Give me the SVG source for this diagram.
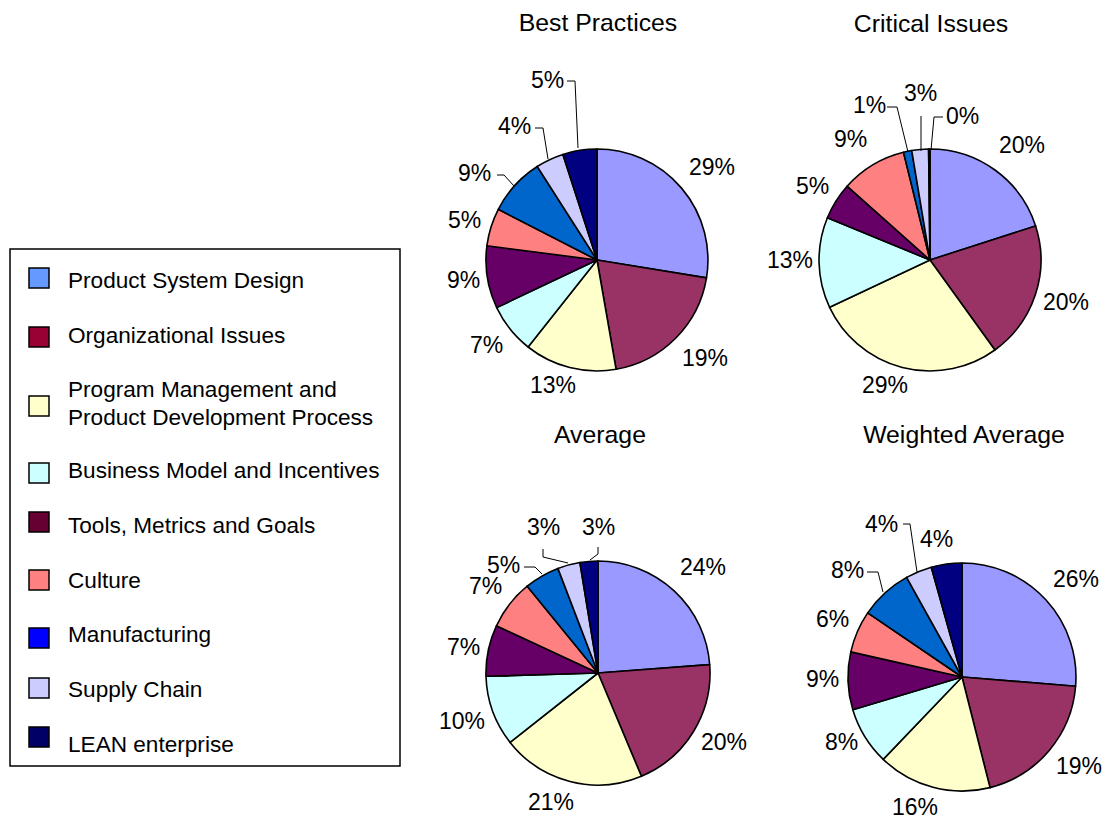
<svg xmlns="http://www.w3.org/2000/svg" width="1107" height="819" viewBox="0 0 1107 819">
<style>
text{font-family:"Liberation Sans",Arial,sans-serif;font-size:23px;fill:#000}
.t{font-size:24.8px;text-anchor:middle}
.lg{font-size:22.6px}
.s{stroke:#000;stroke-width:1.6;stroke-linejoin:round}
.l{fill:none;stroke:#000;stroke-width:1}
.sw{stroke:#000;stroke-width:1.5}
.c1{fill:#9999FF}.c2{fill:#993366}.c3{fill:#FFFFCC}.c4{fill:#CCFFFF}.c5{fill:#660066}.c6{fill:#FF8080}.c7{fill:#0066CC}.c8{fill:#CCCCFF}.c9{fill:#000080}
</style>
<rect width="1107" height="819" fill="#fff"/>

<g id="legend">
<rect x="10" y="249" width="390" height="517" fill="#fff" stroke="#000" stroke-width="1.5"/>
<rect class="sw" x="29" y="268" width="20" height="20" fill="#6699FF"/>
<text class="lg" x="68" y="288">Product System Design</text>
<rect class="sw" x="29" y="327" width="20" height="20" fill="#990033"/>
<text class="lg" x="68" y="343">Organizational Issues</text>
<rect class="sw" x="29" y="396" width="20" height="20" fill="#FFFFCC"/>
<text class="lg" x="68" y="397">Program Management and</text>
<text class="lg" x="68" y="425">Product Development Process</text>
<rect class="sw" x="29" y="463" width="20" height="20" fill="#CCFFFF"/>
<text class="lg" x="68" y="478">Business Model and Incentives</text>
<rect class="sw" x="29" y="512" width="20" height="20" fill="#660033"/>
<text class="lg" x="68" y="533">Tools, Metrics and Goals</text>
<rect class="sw" x="29" y="570" width="20" height="20" fill="#FF8080"/>
<text class="lg" x="68" y="588">Culture</text>
<rect class="sw" x="29" y="628" width="20" height="20" fill="#0000FF"/>
<text class="lg" x="68" y="642">Manufacturing</text>
<rect class="sw" x="29" y="678" width="20" height="20" fill="#CCCCFF"/>
<text class="lg" x="68" y="697">Supply Chain</text>
<rect class="sw" x="29" y="727" width="20" height="20" fill="#000066"/>
<text class="lg" x="68" y="752">LEAN enterprise</text>
</g>

<g id="pie-best-practices">
<text class="t" x="598" y="31">Best Practices</text>
<path class="s c1" d="M597,260 L597,149 A111,111 0 0 1 706.5,277.9 Z"/>
<path class="s c2" d="M597,260 L706.5,277.9 A111,111 0 0 1 616.1,369.3 Z"/>
<path class="s c3" d="M597,260 L616.1,369.3 A111,111 0 0 1 528.1,347 Z"/>
<path class="s c4" d="M597,260 L528.1,347 A111,111 0 0 1 496.7,307.6 Z"/>
<path class="s c5" d="M597,260 L496.7,307.6 A111,111 0 0 1 486.9,245.7 Z"/>
<path class="s c6" d="M597,260 L486.9,245.7 A111,111 0 0 1 498.3,209.3 Z"/>
<path class="s c7" d="M597,260 L498.3,209.3 A111,111 0 0 1 537.2,166.5 Z"/>
<path class="s c8" d="M597,260 L537.2,166.5 A111,111 0 0 1 562.9,154.4 Z"/>
<path class="s c9" d="M597,260 L562.9,154.4 A111,111 0 0 1 597,149 Z"/>
<text x="689" y="175">29%</text>
<text x="682" y="366">19%</text>
<text x="530" y="393">13%</text>
<text x="470" y="353">7%</text>
<text x="447" y="288">9%</text>
<text x="448" y="228">5%</text>
<text x="458" y="181">9%</text>
<text x="498" y="134">4%</text>
<text x="531" y="88">5%</text>
</g>

<g id="pie-critical-issues">
<text class="t" x="931" y="32">Critical Issues</text>
<path class="s c1" d="M930,260 L930,149 A111,111 0 0 1 1035.6,225.9 Z"/>
<path class="s c2" d="M930,260 L1035.6,225.9 A111,111 0 0 1 994.9,350 Z"/>
<path class="s c3" d="M930,260 L994.9,350 A111,111 0 0 1 829.6,307.3 Z"/>
<path class="s c4" d="M930,260 L829.6,307.3 A111,111 0 0 1 827.4,217.7 Z"/>
<path class="s c5" d="M930,260 L827.4,217.7 A111,111 0 0 1 847.1,186.2 Z"/>
<path class="s c6" d="M930,260 L847.1,186.2 A111,111 0 0 1 903.5,152.2 Z"/>
<path class="s c7" d="M930,260 L903.5,152.2 A111,111 0 0 1 911.7,150.5 Z"/>
<path class="s c8" d="M930,260 L911.7,150.5 A111,111 0 0 1 928.6,149 Z"/>
<path class="s c9" d="M930,260 L928.6,149 A111,111 0 0 1 930,149 Z"/>
<text x="999" y="153">20%</text>
<text x="1043" y="310">20%</text>
<text x="862" y="393">29%</text>
<text x="767" y="268">13%</text>
<text x="796" y="194">5%</text>
<text x="834" y="147">9%</text>
<text x="853" y="113">1%</text>
<text x="904" y="101">3%</text>
<text x="946" y="124">0%</text>
</g>

<g id="pie-average">
<text class="t" x="600" y="443">Average</text>
<path class="s c1" d="M598,673 L598,561 A112,112 0 0 1 709.7,664.6 Z"/>
<path class="s c2" d="M598,673 L709.7,664.6 A112,112 0 0 1 641.4,776.3 Z"/>
<path class="s c3" d="M598,673 L641.4,776.3 A112,112 0 0 1 510.1,742.4 Z"/>
<path class="s c4" d="M598,673 L510.1,742.4 A112,112 0 0 1 486,676.3 Z"/>
<path class="s c5" d="M598,673 L486,676.3 A112,112 0 0 1 496.4,625.8 Z"/>
<path class="s c6" d="M598,673 L496.4,625.8 A112,112 0 0 1 527.2,586.2 Z"/>
<path class="s c7" d="M598,673 L527.2,586.2 A112,112 0 0 1 557.9,568.4 Z"/>
<path class="s c8" d="M598,673 L557.9,568.4 A112,112 0 0 1 579.9,562.5 Z"/>
<path class="s c9" d="M598,673 L579.9,562.5 A112,112 0 0 1 598,561 Z"/>
<text x="680" y="575">24%</text>
<text x="701" y="750">20%</text>
<text x="528" y="810">21%</text>
<text x="439" y="729">10%</text>
<text x="447" y="655">7%</text>
<text x="469" y="594">7%</text>
<text x="487" y="573">5%</text>
<text x="527" y="535">3%</text>
<text x="582" y="535">3%</text>
</g>

<g id="pie-weighted-average">
<text class="t" x="964" y="443">Weighted Average</text>
<path class="s c1" d="M962,677 L962,563 A114,114 0 0 1 1075.6,686.3 Z"/>
<path class="s c2" d="M962,677 L1075.6,686.3 A114,114 0 0 1 990,787.6 Z"/>
<path class="s c3" d="M962,677 L990,787.6 A114,114 0 0 1 883.2,759.4 Z"/>
<path class="s c4" d="M962,677 L883.2,759.4 A114,114 0 0 1 852.8,709.8 Z"/>
<path class="s c5" d="M962,677 L852.8,709.8 A114,114 0 0 1 850.8,651.9 Z"/>
<path class="s c6" d="M962,677 L850.8,651.9 A114,114 0 0 1 867.7,612.9 Z"/>
<path class="s c7" d="M962,677 L867.7,612.9 A114,114 0 0 1 906.6,577.4 Z"/>
<path class="s c8" d="M962,677 L906.6,577.4 A114,114 0 0 1 931.3,567.2 Z"/>
<path class="s c9" d="M962,677 L931.3,567.2 A114,114 0 0 1 962,563 Z"/>
<text x="1053" y="587">26%</text>
<text x="1056" y="774">19%</text>
<text x="892" y="815">16%</text>
<text x="825" y="750">8%</text>
<text x="806" y="687">9%</text>
<text x="816" y="627">6%</text>
<text x="831" y="578">8%</text>
<text x="865" y="532">4%</text>
<text x="920" y="547">4%</text>
</g>

<g id="connectors">
<polyline class="l" points="497,175 504,175 514,186"/>
<polyline class="l" points="535,128 543,128 548,159"/>
<polyline class="l" points="567,81 575,81 578,148"/>
<polyline class="l" points="887,107 897,107 908,152"/>
<polyline class="l" points="921,116 921,151"/>
<polyline class="l" points="943,117 934,117 931,150"/>
<polyline class="l" points="524,567 535,567 542,574"/>
<polyline class="l" points="543,549 543,557 568,563"/>
<polyline class="l" points="598,547 598,554 590,560"/>
<polyline class="l" points="867,572 878,572 883,592"/>
<polyline class="l" points="903,524 910,524 917,572"/>
</g>
</svg>
